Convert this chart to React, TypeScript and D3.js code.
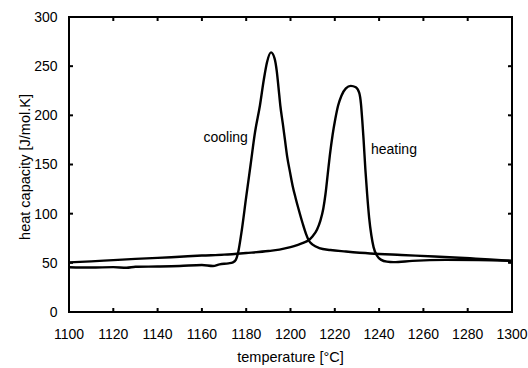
import React from "react";
import * as d3 from "d3";

const xTicks = [1100, 1120, 1140, 1160, 1180, 1200, 1220, 1240, 1260, 1280, 1300];
const yTicks = [0, 50, 100, 150, 200, 250, 300];

const coolingT = [1100, 1110, 1120, 1126, 1130, 1140, 1150, 1160, 1165, 1168, 1172, 1174, 1175.3, 1176.4, 1177.8, 1180, 1182, 1184, 1186.2, 1188, 1189.4, 1191.2, 1192.8, 1193.8, 1194.6, 1195.4, 1196.5, 1197.5, 1198.5, 1199.8, 1201, 1202.3, 1203.6, 1205.5, 1207, 1208.2, 1210, 1213, 1218, 1225, 1236, 1250, 1265, 1281, 1290, 1300];
const coolingC = [45.5, 45.2, 45.6, 45, 46, 46.3, 46.8, 47.8, 46.8, 48.5, 49.5, 50.5, 53, 61, 80, 117, 150, 183, 210, 237, 254, 264, 258, 245, 228, 210, 192, 175, 158, 142, 128, 116, 105, 90, 79.5, 73, 68.5, 65, 63, 61.5, 59.5, 58, 56.5, 54.6, 53.5, 52];

const heatingT = [1100, 1110, 1120, 1130, 1140, 1150, 1160, 1170, 1180, 1190, 1195, 1200, 1203, 1206, 1208.2, 1210, 1212, 1213.5, 1214.8, 1215.8, 1216.8, 1217.8, 1219, 1220.2, 1221.5, 1223, 1225, 1227.2, 1229.5, 1231, 1231.8, 1232.4, 1233, 1233.8, 1234.6, 1235.5, 1236.5, 1237.5, 1239, 1241, 1243.5, 1246.5, 1255, 1270, 1285, 1300];
const heatingC = [50.5, 51.5, 52.8, 54, 55, 56.2, 57.4, 58.3, 60, 62, 63.5, 66, 68, 70.5, 73, 77, 84, 93, 105, 120, 140, 160, 180, 196, 210, 220, 227.5, 230, 228.5, 223, 212, 195, 175, 145, 120, 96, 78, 66, 57.5, 53, 51.2, 50.7, 52, 53, 52.8, 52];

const W = 528;
const H = 368;
const left = 69;
const right = 512;
const top = 17;
const bottom = 312;

export default function App() {
  const x = d3.scaleLinear().domain([1100, 1300]).range([left, right]);
  const y = d3.scaleLinear().domain([0, 300]).range([bottom, top]);

  const mk = (ts: number[], cs: number[]) =>
    d3
      .line<number>()
      .x((_, i) => x(ts[i]))
      .y((_, i) => y(cs[i]))
      .curve(d3.curveMonotoneX)(cs.map((c) => c)) as string;

  const font = "'Liberation Sans', Arial, sans-serif";

  return (
    <svg
      width={W}
      height={H}
      style={{ position: "absolute", left: 0, top: 0, background: "#fff" }}
      fontFamily={font}
    >
      <rect x={0} y={0} width={W} height={H} fill="#fff" />
      <path d={mk(coolingT, coolingC)} fill="none" stroke="#000" strokeWidth={2.4} strokeLinejoin="round" />
      <path d={mk(heatingT, heatingC)} fill="none" stroke="#000" strokeWidth={2.4} strokeLinejoin="round" />

      <rect x={left} y={top} width={right - left} height={bottom - top} fill="none" stroke="#000" strokeWidth={2} />

      {xTicks.map((t) => (
        <g key={"x" + t}>
          <line x1={x(t)} x2={x(t)} y1={bottom} y2={bottom - 4} stroke="#000" strokeWidth={2} />
          <line x1={x(t)} x2={x(t)} y1={top} y2={top + 4} stroke="#000" strokeWidth={2} />
          <text x={x(t)} y={338.5} textAnchor="middle" fontSize={14} fill="#000">
            {t}
          </text>
        </g>
      ))}
      {yTicks.map((t) => (
        <g key={"y" + t}>
          <line x1={left} x2={left + 4} y1={y(t)} y2={y(t)} stroke="#000" strokeWidth={2} />
          <line x1={right} x2={right - 4} y1={y(t)} y2={y(t)} stroke="#000" strokeWidth={2} />
          <text x={57.5} y={y(t)} dy="0.35em" textAnchor="end" fontSize={14} fill="#000">
            {t}
          </text>
        </g>
      ))}

      <text x={(left + right) / 2} y={362} textAnchor="middle" fontSize={14.5} fill="#000">
        temperature [°C]
      </text>
      <text
        transform={`translate(30, 167) rotate(-90)`}
        textAnchor="middle"
        fontSize={14.5}
        fill="#000"
      >
        heat capacity [J/mol.K]
      </text>

      <text x={203.5} y={141.5} fontSize={14} fill="#000">
        cooling
      </text>
      <text x={371} y={153.5} fontSize={14} fill="#000">
        heating
      </text>
    </svg>
  );
}
